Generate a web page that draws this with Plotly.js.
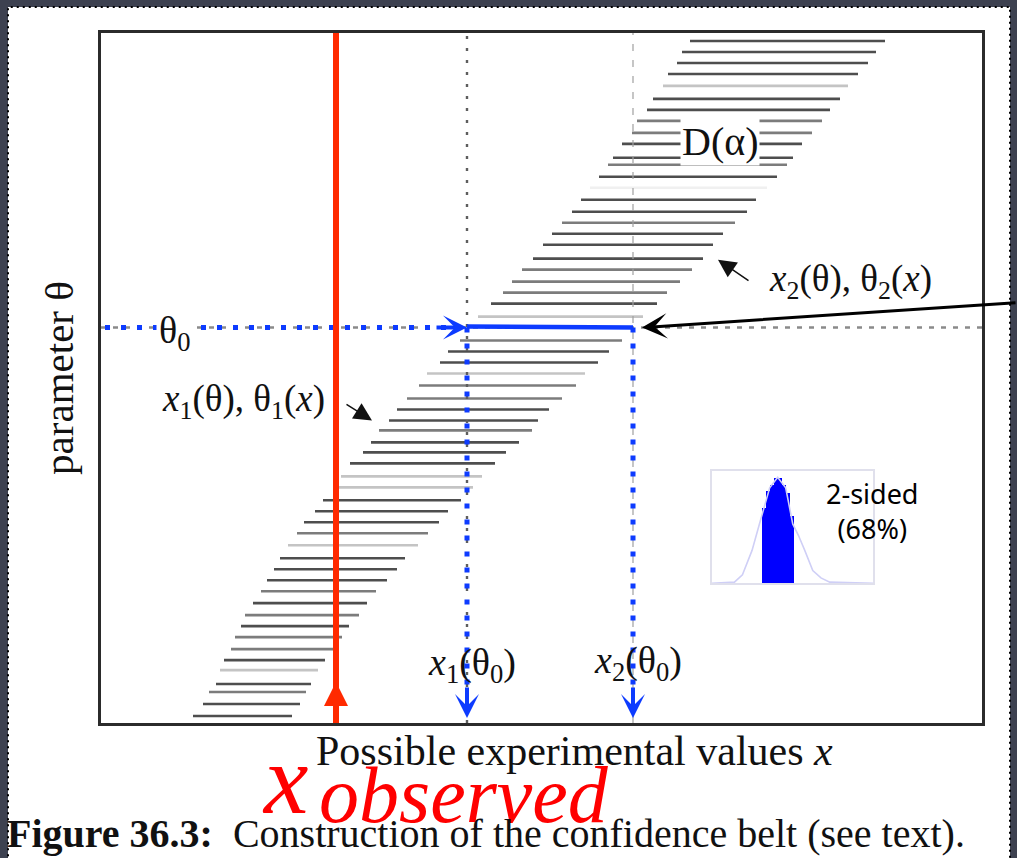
<!DOCTYPE html>
<html><head><meta charset="utf-8">
<script src="https://cdn.plot.ly/plotly-3.0.1.min.js"></script>
<style>html,body{margin:0;padding:0;background:#3d4150;}#chart{width:1017px;height:858px;}</style>
</head><body><div id="chart"></div>
<script>
// Confidence belt rows: parameter value theta and the acceptance interval [x1(theta), x2(theta)]
const beltTheta = [683,672,661,650,638,625,614,603,591,580,566,559,547,536,524,512,501,490,479,465,454,442,431,420,407,
                   383,372,361,350,338,325,314,303,293,281,271,260,247,236,223,212,201,190,178,165,154,143,132,120,108,97,86,74,63,53,39,31,19,7];
const beltX1 = [589,581,576,567,562,552,546,536,531,521,512,507,498,489,480,471,461,451,442,432,421,411,402,390,377,
                359,347,339,326,318,306,296,288,278,270,262,249,240,232,222,214,203,196,187,179,173,166,160,152,144,140,134,130,123,119,115,108,102,92];
const beltX2 = [784,775,767,757,747,739,729,721,711,701,692,686,676,666,655,646,634,622,612,602,591,579,566,556,542,
                521,508,497,484,475,461,448,437,431,418,405,394,381,372,360,347,338,327,317,304,296,286,275,266,258,248,241,232,224,217,210,205,199,191];
// rendering intensity of each row in the scanned figure: 0 dark, 1 medium, 2 faint, 3 almost invisible
const beltShade = [0,0,0,0,2,0,0,1,1,0,0,1,0,3,0,0,1,0,0,0,1,1,1,0,2,
                   1,0,0,2,1,1,0,0,1,0,0,0,2,2,0,0,0,1,2,0,0,0,1,0,1,0,1,1,0,2,0,1,0,0];

// Construction at theta0
const theta0 = 396;
const x1AtTheta0 = 366;
const x2AtTheta0 = 532;
const xObserved = 235;
const xMax = 881, thetaMax = 691;

// Inset: 2-sided 68% central interval of a gaussian (x in sigma units)
const insetBinCenters = [-0.875,-0.625,-0.375,-0.125,0.125,0.375,0.625,0.875];
const insetBinHeights = [0.71,0.87,0.93,0.99,0.99,0.93,0.85,0.63];
const insetCurveX = [-4.1,-2.7,-2.2,-1.6,-1.1,-0.5,0,0.5,0.94,1.3,1.69,2.19,2.7,3.25,5.95];
const insetCurveY = [0,0.01,0.08,0.31,0.58,0.9,1.0,0.9,0.56,0.45,0.31,0.12,0.05,0.01,0];

const shadeColors = ['#4e4e4e','#7c7c7c','#c4c4c4','#f0f0f0'];
const BLUE = '#0d3bff';
const traces = [];

// belt rows grouped by shade
for (let s = 3; s >= 0; s--) {
  const xs = [], ys = [];
  beltTheta.forEach((t, i) => {
    if (beltShade[i] === s) { xs.push(beltX1[i], beltX2[i], null); ys.push(t, t, null); }
  });
  traces.push({type:'scatter', mode:'lines', x:xs, y:ys, line:{color:shadeColors[s], width:2.6}, hoverinfo:'skip', showlegend:false});
}
// gray guide lines
traces.push({type:'scatter', mode:'lines', x:[x1AtTheta0,x1AtTheta0], y:[0,thetaMax], line:{color:'#5e5e5e', width:2.4, dash:'3px,9px'}, showlegend:false, hoverinfo:'skip'});
traces.push({type:'scatter', mode:'lines', x:[x2AtTheta0,x2AtTheta0], y:[0,thetaMax], line:{color:'#a0a0a0', width:1.2, dash:'7px,9px'}, showlegend:false, hoverinfo:'skip'});
traces.push({type:'scatter', mode:'lines', x:[0,xMax], y:[theta0,theta0], line:{color:'#8a8a8a', width:2.4, dash:'5px,7px'}, showlegend:false, hoverinfo:'skip'});
// blue construction
traces.push({type:'scatter', mode:'lines', x:[4,x1AtTheta0-20], y:[theta0,theta0], line:{color:BLUE, width:5, dash:'5px,11px'}, showlegend:false, hoverinfo:'skip'});
traces.push({type:'scatter', mode:'lines', x:[x1AtTheta0,x1AtTheta0], y:[theta0,30], line:{color:BLUE, width:5, dash:'5px,11px'}, showlegend:false, hoverinfo:'skip'});
traces.push({type:'scatter', mode:'lines', x:[x2AtTheta0,x2AtTheta0], y:[theta0,30], line:{color:BLUE, width:5, dash:'5px,11px'}, showlegend:false, hoverinfo:'skip'});
traces.push({type:'scatter', mode:'lines', x:[x1AtTheta0,x2AtTheta0], y:[theta0+1,theta0], line:{color:BLUE, width:4.5}, showlegend:false, hoverinfo:'skip'});
// observed x
traces.push({type:'scatter', mode:'lines', x:[xObserved,xObserved], y:[-4,thetaMax], line:{color:'#ff2a00', width:6}, showlegend:false, hoverinfo:'skip', cliponaxis:false});
// inset
traces.push({type:'scatter', mode:'lines', x:insetCurveX, y:insetCurveY, xaxis:'x2', yaxis:'y2', line:{color:'#cfcff6', width:1.6}, showlegend:false, hoverinfo:'skip'});
traces.push({type:'bar', x:insetBinCenters, y:insetBinHeights, width:0.25, xaxis:'x2', yaxis:'y2', marker:{color:'#0000ff', line:{width:0}}, showlegend:false, hoverinfo:'skip'});

const serif = 'Liberation Serif, Times New Roman, serif';
const px2x = p => (p - 101) / 881;
const py2y = p => (723 - p) / 691;
const TXT = '#111';

const annotations = [
  // labels
  {x:619, y:582, xref:'x', yref:'y', text:'D(α)', showarrow:false, font:{family:serif, size:40, color:TXT}, bgcolor:'#fff', borderpad:1},
  {x:74, y:391, xref:'x', yref:'y', text:'θ<sub>0</sub>', showarrow:false, font:{family:serif, size:38, color:TXT}, bgcolor:'#fff', borderpad:2},
  {x:142, y:322, xref:'x', yref:'y', text:'<i>x</i><sub>1</sub>(θ), θ<sub>1</sub>(<i>x</i>)', showarrow:false, font:{family:serif, size:37, color:TXT}},
  {x:749, y:442, xref:'x', yref:'y', text:'<i>x</i><sub>2</sub>(θ), θ<sub>2</sub>(<i>x</i>)', showarrow:false, font:{family:serif, size:37, color:TXT}},
  {x:371, y:58, xref:'x', yref:'y', text:'<i>x</i><sub>1</sub>(θ<sub>0</sub>)', showarrow:false, font:{family:serif, size:38, color:TXT}},
  {x:537, y:60, xref:'x', yref:'y', text:'<i>x</i><sub>2</sub>(θ<sub>0</sub>)', showarrow:false, font:{family:serif, size:38, color:TXT}},
  // arrows
  {x:x1AtTheta0, y:theta0, xref:'x', yref:'y', ax:-32, ay:0, text:'', showarrow:true, arrowhead:3, arrowwidth:4, arrowsize:1, arrowcolor:BLUE},
  {x:x1AtTheta0, y:5, xref:'x', yref:'y', ax:0, ay:-32, text:'', showarrow:true, arrowhead:3, arrowwidth:4, arrowsize:1, arrowcolor:BLUE},
  {x:x2AtTheta0, y:5, xref:'x', yref:'y', ax:0, ay:-32, text:'', showarrow:true, arrowhead:3, arrowwidth:4, arrowsize:1, arrowcolor:BLUE},
  {x:xObserved, y:41, xref:'x', yref:'y', ax:0, ay:30, text:'', showarrow:true, arrowhead:2, arrowwidth:6, arrowsize:0.8, arrowcolor:'#ff2a00'},
  {x:x2AtTheta0+9, y:theta0, xref:'x', yref:'y', ax:375, ay:-25, text:'', showarrow:true, arrowhead:3, arrowwidth:3, arrowsize:1.4, arrowcolor:'#000'},
  {x:271, y:303, xref:'x', yref:'y', ax:-27, ay:-17, text:'', showarrow:true, arrowhead:2, arrowwidth:1.5, arrowsize:2.4, arrowcolor:'#111'},
  {x:617, y:464, xref:'x', yref:'y', ax:32, ay:22, text:'', showarrow:true, arrowhead:2, arrowwidth:1.5, arrowsize:2.4, arrowcolor:'#111'},
  // inset text
  {x:px2x(872), y:py2y(511), xref:'paper', yref:'paper', xanchor:'center', yanchor:'middle', text:'2-sided<br>(68%)', showarrow:false, font:{family:'Noto Sans, sans-serif', size:27, color:'#000'}},
  // x axis title (sits right of the plot centre in the original)
  {x:px2x(574), y:py2y(751), xref:'paper', yref:'paper', xanchor:'center', yanchor:'middle', text:'Possible experimental values <i>x</i>', showarrow:false, font:{family:serif, size:42, color:TXT}},
  // x observed
  {x:px2x(285), y:py2y(780), xref:'paper', yref:'paper', xanchor:'center', yanchor:'middle', text:'<i>x</i>', showarrow:false, font:{family:serif, size:100, color:'#ff0000'}},
  {x:px2x(464), y:py2y(795), xref:'paper', yref:'paper', xanchor:'center', yanchor:'middle', text:'<i>observed</i>', showarrow:false, font:{family:serif, size:80, color:'#ff0000'}},
  // caption
  {x:px2x(5), y:py2y(834), xref:'paper', yref:'paper', xanchor:'left', yanchor:'middle', text:'<b>Figure 36.3:</b>  Construction of the confidence belt (see text).', showarrow:false, font:{family:serif, size:40, color:TXT}}
];

const layout = {
  width:1017, height:858,
  margin:{l:101, r:35, t:33, b:135},
  paper_bgcolor:'#3d4150', plot_bgcolor:'#ffffff',
  showlegend:false, bargap:0,
  xaxis:{range:[0,xMax], showgrid:false, zeroline:false, showticklabels:false, ticks:'', showline:true, mirror:true, linecolor:'#2b2b2b', linewidth:3},
  yaxis:{range:[0,thetaMax], showgrid:false, zeroline:false, showticklabels:false, ticks:'', showline:true, mirror:true, linecolor:'#2b2b2b', linewidth:3,
         title:{text:'parameter θ', font:{family:serif, size:41, color:TXT}, standoff:12}},
  xaxis2:{domain:[px2x(712), px2x(873)], anchor:'y2', range:[-4.1,5.95], showgrid:false, zeroline:false, showticklabels:false, ticks:'', showline:true, mirror:true, linecolor:'#e0e0ec', linewidth:2},
  yaxis2:{domain:[py2y(583), py2y(471)], anchor:'x2', range:[0,1.056], showgrid:false, zeroline:false, showticklabels:false, ticks:'', showline:true, mirror:true, linecolor:'#e0e0ec', linewidth:2},
  shapes:[
    {type:'rect', xref:'paper', yref:'paper', x0:px2x(8), x1:px2x(1010), y0:py2y(870), y1:py2y(6), fillcolor:'#ffffff', line:{color:'#000', width:2, dash:'2px,4px'}, layer:'below'}
  ],
  annotations: annotations
};

Plotly.newPlot('chart', traces, layout, {displayModeBar:false, staticPlot:true});
</script></body></html>
